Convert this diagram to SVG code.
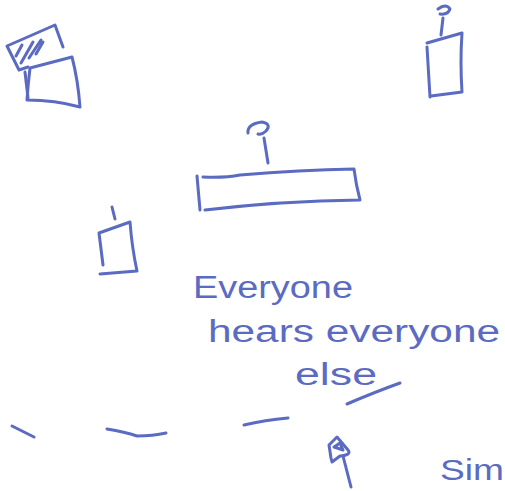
<svg xmlns="http://www.w3.org/2000/svg" width="505" height="491" viewBox="0 0 505 491">
<style>
.s{fill:none;stroke:#5b6bc2;stroke-width:3;stroke-linecap:round;stroke-linejoin:round}
.t{fill:#5b6bc2;font-family:"Liberation Sans",Arial,sans-serif}
</style>
<rect width="505" height="491" fill="#ffffff"/>
<g id="laptop">
<path class="s" d="M7,46 L55,25 L63,47 M7,46 L19,70 L28,67"/>
<path class="s" d="M16,56 L22,45 M21,63 L33,42 M29,58 L41,40 M36,54 L43,42"/>
<path class="s" d="M30,68 L72,57 Q78,80 80,107 Q55,100 27,100 Q28,84 30,68"/>
<path class="s" d="M25,72 L28,98"/>
</g>
<g id="device-top-right">
<path class="s" d="M438,9 Q446,3 450,9 Q448,15 440,14"/>
<path class="s" d="M443,18 L441,35"/>
<path class="s" d="M427,43 L462,33 Q460,62 462,92 L431,96 M427,47 L430,97"/>
</g>
<g id="center-bar">
<path class="s" d="M248,133 Q247,124 262,122 Q272,124 266,131 Q262,135 258,134"/>
<path class="s" d="M264,138 L268,163"/>
<path class="s" d="M197,176 L200,210"/>
<path class="s" d="M203,177 Q225,178 240,175 Q300,170 354,169 Q356,185 360,200 Q280,201 205,210"/>
</g>
<g id="device-small">
<path class="s" d="M112,207 L115,219"/>
<path class="s" d="M99,233 L130,222 Q132,248 137,271 L100,274 M99,233 L103,265"/>
</g>
<g id="pin">
<path class="s" d="M331,458 L329,445 L337,437 L348,450 Q352,455 340,456 L332,462 Z"/>
<path class="s" d="M334,447 L340,443 L343,450 Z" fill="#5b6bc2"/>
<path class="s" d="M343,456 L351,487"/>
</g>
<g id="connectors">
<path class="s" d="M12,426 L34,437"/>
<path class="s" d="M107,429 Q125,432 137,436 Q153,436 166,433"/>
<path class="s" d="M244,425 Q265,420 288,418"/>
<path class="s" d="M347,404 Q375,392 400,383"/>
</g>
<g id="labels">
<text class="t" x="193" y="298" font-size="31" textLength="160" lengthAdjust="spacingAndGlyphs">Everyone</text>
<text class="t" x="208" y="342" font-size="31" textLength="292" lengthAdjust="spacingAndGlyphs">hears everyone</text>
<text class="t" x="295" y="385" font-size="31" textLength="82" lengthAdjust="spacingAndGlyphs">else</text>
<text class="t" x="440" y="480" font-size="30" textLength="64" lengthAdjust="spacingAndGlyphs">Sim</text>
</g>
</svg>
